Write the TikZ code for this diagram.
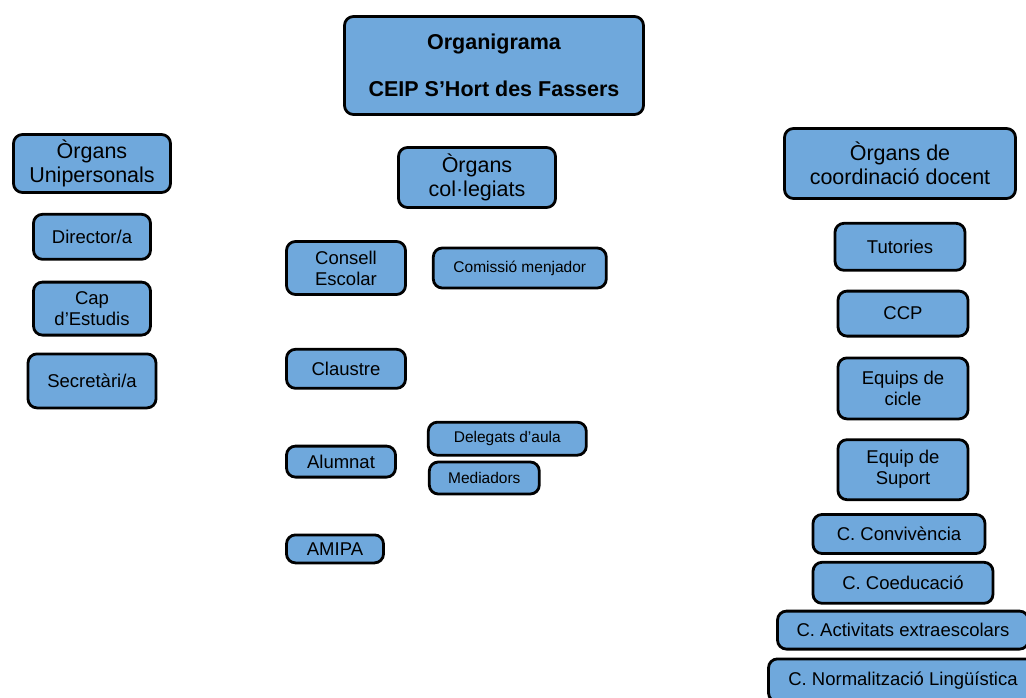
\documentclass[tikz,border=0pt]{standalone}
\usepackage{fontspec}
\setmainfont{Liberation Sans}
\usetikzlibrary{positioning}
\definecolor{boxblue}{HTML}{6FA8DC}

\begin{document}
\begin{tikzpicture}[
        x=1pt, y=-1pt,
        box/.style = {draw, black, fill=boxblue, line width=2.8pt, rounded corners=9pt, align=center, inner sep=2pt},
        H/.style = {box, font=\fontsize{21.5}{24}\selectfont},
        B/.style = {box, font=\fontsize{18.5}{21}\selectfont},
        S/.style = {box, font=\fontsize{15.5}{18}\selectfont}
    ]
        \useasboundingbox (0,0) rectangle (1026,697);
        \node[box, font=\bfseries\fontsize{21.5}{25}\selectfont, minimum width=299pt, minimum height=98pt] (title) at (494,65.5) {Organigrama\\[22pt]CEIP S'Hort des Fassers};
        % Organs unipersonals
        \node[H, minimum width=157pt, minimum height=58pt] (unip) at (92,163.5) {Òrgans\\Unipersonals};
        \node[B, minimum width=117pt, minimum height=45pt, below=19pt of unip] (dir) {Director/a};
        \node[B, minimum width=117pt, minimum height=53pt, below=20pt of dir] (cap) {Cap\\d'Estudis};
        \node[B, minimum width=128pt, minimum height=54pt, below=16pt of cap] (secr) {Secretàri/a};
        % Organs col.legiats
        \node[H, minimum width=157pt, minimum height=60pt] (coleg) at (477,177.5) {Òrgans\\col·legiats};
        \node[B, minimum width=119pt, minimum height=53pt] (consell) at (346,268) {Consell\\Escolar};
        \node[S, minimum width=173pt, minimum height=40pt, right=25pt of consell] (menj) {Comissió menjador};
        \node[B, minimum width=119pt, minimum height=39pt, below=52pt of consell] (claustre) {Claustre};
        \node[B, minimum width=109pt, minimum height=31pt, below right=55pt and 0pt of claustre.south west] (alumnat) {Alumnat};
        \node[S, minimum width=158pt, minimum height=33pt, above right=5pt and 30pt of alumnat.east] (deleg) {Delegats d'aula};
        \node[S, minimum width=110pt, minimum height=32pt, below right=4pt and 1pt of deleg.south west] (medi) {Mediadors};
        \node[B, minimum width=97pt, minimum height=28pt, below right=55pt and 0pt of alumnat.south west] (amipa) {AMIPA};
        % Organs de coordinacio docent
        \node[H, minimum width=231pt, minimum height=70pt] (coord) at (900,163.5) {Òrgans de\\coordinació docent};
        \node[B, minimum width=130pt, minimum height=47pt, below=22pt of coord] (tut) {Tutories};
        \node[B, minimum width=130pt, minimum height=45pt, below=18pt of tut, xshift=3pt] (ccp) {CCP};
        \node[B, minimum width=130pt, minimum height=61pt, below=19pt of ccp] (cicle) {Equips de\\cicle};
        \node[B, minimum width=130pt, minimum height=60pt, below=18pt of cicle] (suport) {Equip de\\Suport};
        \node[B, minimum width=172pt, minimum height=39pt, below=12pt of suport, xshift=-4pt] (conv) {C. Convivència};
        \node[B, minimum width=180pt, minimum height=41pt, below right=6pt and 0pt of conv.south west] (coed) {C. Coeducació};
        \node[B, minimum width=251pt, minimum height=38pt, below=5pt of coed] (activ) {C. Activitats extraescolars};
        \node[B, minimum width=269pt, minimum height=43pt, below=7pt of activ] (norm) {C. Normalització Lingüística};
    \end{tikzpicture}
\end{document}
